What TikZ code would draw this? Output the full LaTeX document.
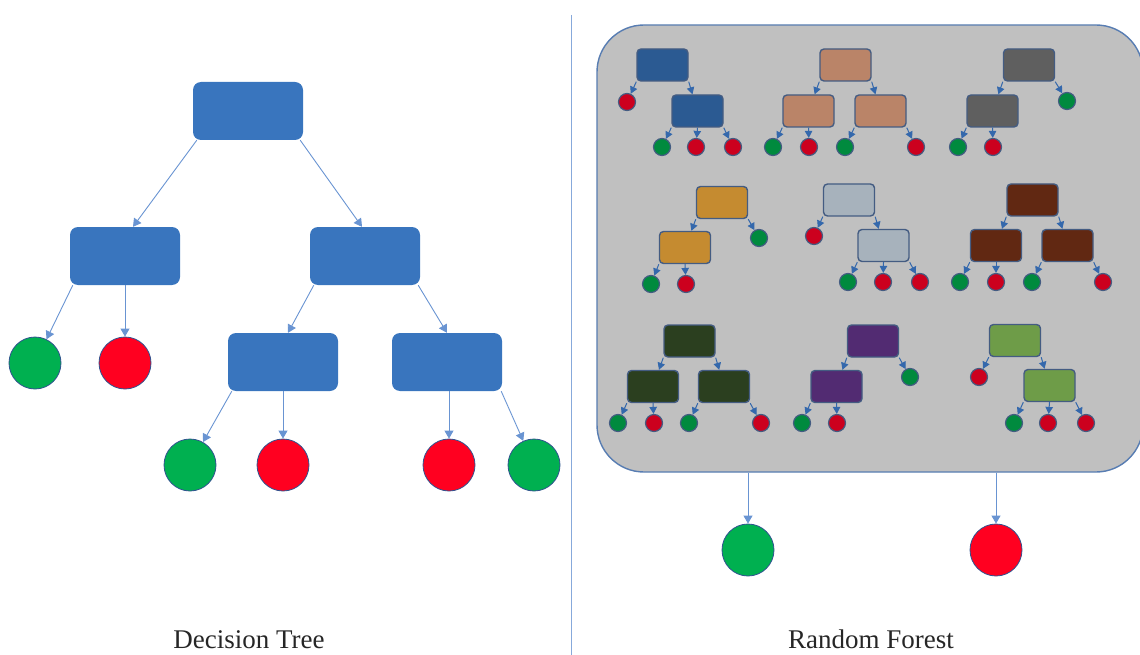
\documentclass[tikz,border=0pt]{standalone}
\usepackage{fontspec}
\setmainfont{Liberation Serif}
\usepackage{xcolor}
\usepackage{tikz}
\usetikzlibrary{arrows.meta, positioning, calc}

\definecolor{boxblue}{RGB}{57,117,190}
\definecolor{leafgreen}{RGB}{0,176,80}
\definecolor{leafred}{RGB}{255,0,32}
\definecolor{edgeblue}{RGB}{105,148,210}
\definecolor{rimblue}{RGB}{47,82,143}
\definecolor{forestgray}{RGB}{192,192,192}
\definecolor{forestrim}{RGB}{88,125,178}
\definecolor{sgreen}{RGB}{0,138,62}
\definecolor{sred}{RGB}{204,0,30}
\definecolor{srim}{RGB}{68,92,130}
\definecolor{sedge}{RGB}{52,104,172}
\definecolor{treeA}{RGB}{43,90,146}
\definecolor{treeB}{RGB}{186,132,104}
\definecolor{treeC}{RGB}{95,95,95}
\definecolor{treeD}{RGB}{197,139,48}
\definecolor{treeE}{RGB}{167,178,188}
\definecolor{treeF}{RGB}{97,40,18}
\definecolor{treeG}{RGB}{43,63,31}
\definecolor{treeH}{RGB}{82,43,114}
\definecolor{treeI}{RGB}{110,156,72}

\tikzset{
    bigbox/.style={rectangle, rounded corners=8pt, fill=boxblue, minimum width=110pt, minimum height=58pt, inner sep=0pt},
    bigleaf/.style={circle, draw=rimblue, line width=0.8pt, minimum size=52pt, inner sep=0pt},
    link/.style={draw=edgeblue, line width=0.9pt, -{Triangle[length=8pt,width=9pt]}},
    smallbox/.style={rectangle, rounded corners=4pt, draw=srim, line width=1.4pt, minimum width=51pt, minimum height=32pt, inner sep=0pt},
    smallleaf/.style={circle, draw=srim, line width=1.2pt, minimum size=17pt, inner sep=0pt},
    slink/.style={draw=sedge, line width=1pt, -{Triangle[length=7pt,width=7.5pt]}},
    caption/.style={font=\fontsize{27}{32}\selectfont, text=black!85, anchor=base}
}

\begin{document}
\begin{tikzpicture}[x=1pt, y=-1pt]
    \useasboundingbox (0,0) rectangle (1140,655);

    % Divider
    \draw[edgeblue!80, line width=0.9pt] (571,15) -- (571,655);

    % Decision tree
    \node[bigbox] (root) at (248,111) {};
    \node[bigbox] (lc) at (125,256) {};
    \node[bigbox] (rc) at (365,256) {};
    \node[bigbox] (rlbox) at (283,362) {};
    \node[bigbox] (rrbox) at (447,362) {};
    \node[bigleaf, fill=leafgreen] (gl1) at (35,363) {};
    \node[bigleaf, fill=leafred] (rl1) at (125,363) {};
    \node[bigleaf, fill=leafgreen] (gl2) at (190,465) {};
    \node[bigleaf, fill=leafred] (rl2) at (283,465) {};
    \node[bigleaf, fill=leafred] (rl3) at (449,465) {};
    \node[bigleaf, fill=leafgreen] (gl3) at (534,465) {};

    \draw[link] ([xshift=4pt]root.south west) -- ([xshift=8pt]lc.north);
    \draw[link] ([xshift=-3pt]root.south east) -- ([xshift=-3pt]rc.north);
    \draw[link] ([xshift=3pt]lc.south west) -- (gl1);
    \draw[link] (lc.south) -- (rl1);
    \draw[link] ([xshift=4pt]rc.south west) -- ([xshift=5pt]rlbox.north);
    \draw[link] ([xshift=-2pt]rc.south east) -- (rrbox.north);
    \draw[link] ([xshift=4pt]rlbox.south west) -- (gl2);
    \draw[link] (rlbox.south) -- (rl2);
    \draw[link] ([xshift=2pt]rrbox.south) -- (rl3);
    \draw[link] ([xshift=-1pt]rrbox.south east) -- (gl3);

    % Random forest
    \node[rectangle, rounded corners=47pt, draw=forestrim, fill=forestgray, line width=1.4pt,
          minimum width=546pt, minimum height=447pt] (forest) at (870,248.5) {};

    \foreach \n/\x/\y/\col in {
        a1/662.5/65/treeA, a2/697.5/111/treeA,
        b1/845.5/65/treeB, b2/808.5/111/treeB, b3/880.5/111/treeB,
        c1/1029/65/treeC, c2/992.5/111/treeC,
        d1/722/202.5/treeD, d2/685/247.5/treeD,
        e1/849/200/treeE, e2/883.5/245.5/treeE,
        f1/1032.5/200/treeF, f2/996/245.5/treeF, f3/1067.5/245.5/treeF,
        g1/689.5/341/treeG, g2/653/386.5/treeG, g3/724/386.5/treeG,
        h1/873/341/treeH, h2/836.5/386.5/treeH,
        i1/1015/340.5/treeI, i2/1049.5/385.5/treeI%
    } {
        \node[smallbox, fill=\col] (\n) at (\x,\y) {};
    }

    \foreach \n/\x/\y/\col in {
        a3/627/102/sred, a4/662/147/sgreen, a5/696/147/sred, a6/733/147/sred,
        b4/773/147/sgreen, b5/809/147/sred, b6/845/147/sgreen, b7/916/147/sred,
        c3/1067/101/sgreen, c4/958/147/sgreen, c5/993/147/sred,
        d3/759/238/sgreen, d4/651/284/sgreen, d5/686/284/sred,
        e3/814/236/sred, e4/848/282/sgreen, e5/883/282/sred, e6/920/282/sred,
        f4/960/282/sgreen, f5/996/282/sred, f6/1032/282/sgreen, f7/1103/282/sred,
        g4/618/423/sgreen, g5/654/423/sred, g6/689/423/sgreen, g7/761/423/sred,
        h3/910/377/sgreen, h4/802/423/sgreen, h5/837/423/sred,
        i3/979/377/sred, i4/1014/423/sgreen, i5/1048/423/sred, i6/1086/423/sred%
    } {
        \node[smallleaf, fill=\col] (\n) at (\x,\y) {};
    }

    \foreach \p/\c in {
        a1.south west/a3, a1.south east/a2, a2.south west/a4, a2.south/a5, a2.south east/a6,
        b1.south west/b2, b1.south east/b3, b2.south west/b4, b2.south/b5, b3.south west/b6, b3.south east/b7,
        c1.south west/c2, c1.south east/c3, c2.south west/c4, c2.south/c5,
        d1.south west/d2, d1.south east/d3, d2.south west/d4, d2.south/d5,
        e1.south west/e3, e1.south east/e2, e2.south west/e4, e2.south/e5, e2.south east/e6,
        f1.south west/f2, f1.south east/f3, f2.south west/f4, f2.south/f5, f3.south west/f6, f3.south east/f7,
        g1.south west/g2, g1.south east/g3, g2.south west/g4, g2.south/g5, g3.south west/g6, g3.south east/g7,
        h1.south west/h2, h1.south east/h3, h2.south west/h4, h2.south/h5,
        i1.south west/i3, i1.south east/i2, i2.south west/i4, i2.south/i5, i2.south east/i6%
    } {
        \draw[slink] (\p) -- (\c);
    }

    % Votes
    \node[bigleaf, fill=leafgreen] (vgreen) at (748,550) {};
    \node[bigleaf, fill=leafred] (vred) at (996,550) {};
    \draw[link] (forest.south -| vgreen) -- (vgreen);
    \draw[link] (forest.south -| vred) -- (vred);

    % Captions
    \node[caption] (dtcap) at (249,648) {Decision Tree};
    \node[caption] (rfcap) at (871,648) {Random Forest};
\end{tikzpicture}
\end{document}
